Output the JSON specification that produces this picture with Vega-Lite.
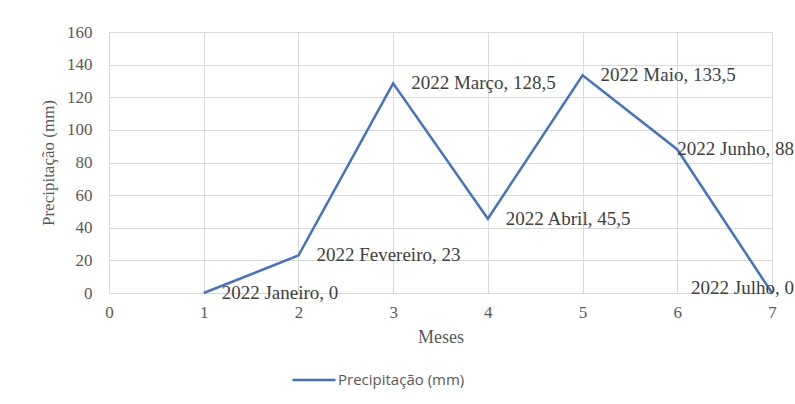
{
  "$schema": "https://vega.github.io/schema/vega-lite/v6.json",
  "width": 663,
  "height": 261,
  "autosize": "none",
  "padding": {"left": 109, "top": 32, "right": 23, "bottom": 111},
  "background": "white",
  "config": {
    "view": {"stroke": null},
    "axis": {
      "labelFont": "Liberation Serif",
      "titleFont": "Liberation Serif",
      "labelColor": "#595959",
      "titleColor": "#595959",
      "titleFontWeight": "normal",
      "gridColor": "#d9d9d9",
      "gridWidth": 1,
      "ticks": false,
      "labelFlush": false
    }
  },
  "data": {
    "values": [
      {"mes": 1, "valor": 0, "rotulo": "2022 Janeiro, 0", "grupo": "a"},
      {"mes": 2, "valor": 23, "rotulo": "2022 Fevereiro, 23", "grupo": "a"},
      {"mes": 3, "valor": 128.5, "rotulo": "2022 Março, 128,5", "grupo": "a"},
      {"mes": 4, "valor": 45.5, "rotulo": "2022 Abril, 45,5", "grupo": "a"},
      {"mes": 5, "valor": 133.5, "rotulo": "2022 Maio, 133,5", "grupo": "a"},
      {"mes": 6, "valor": 88, "rotulo": "2022 Junho, 88", "grupo": "b"},
      {"mes": 7, "valor": 0, "rotulo": "2022 Julho, 0", "grupo": "c"}
    ]
  },
  "encoding": {
    "x": {
      "field": "mes",
      "type": "quantitative",
      "scale": {"domain": [0, 7], "nice": false, "zero": false},
      "axis": {
        "title": "Meses",
        "values": [0, 1, 2, 3, 4, 5, 6, 7],
        "labelFontSize": 17,
        "titleFontSize": 18,
        "labelPadding": 11,
        "titlePadding": 8,
        "domain": true,
        "domainColor": "#d9d9d9",
        "format": "d"
      }
    },
    "y": {
      "field": "valor",
      "type": "quantitative",
      "scale": {"domain": [0, 160], "nice": false},
      "axis": {
        "title": "Precipitação (mm)",
        "values": [0, 20, 40, 60, 80, 100, 120, 140, 160],
        "labelFontSize": 17,
        "titleFontSize": 17,
        "labelPadding": 17,
        "titlePadding": 9,
        "domain": false,
        "format": "d"
      }
    }
  },
  "layer": [
    {
      "mark": {"type": "line", "strokeWidth": 2.5},
      "encoding": {
        "color": {
          "datum": "Precipitação (mm)",
          "type": "nominal",
          "scale": {"range": ["#4472C4"]},
          "legend": {
            "title": null,
            "orient": "none",
            "legendX": 182,
            "legendY": 325,
            "symbolType": "stroke",
            "symbolSize": 1849,
            "symbolStrokeWidth": 2.5,
            "labelFont": "Open Sans",
            "labelFontSize": 15,
            "labelColor": "#595959",
            "labelOffset": 1
          }
        }
      }
    },
    {
      "transform": [{"filter": "datum.grupo === 'a'"}],
      "mark": {"type": "text", "align": "left", "baseline": "middle", "dx": 18, "font": "Liberation Serif", "fontSize": 19, "color": "#404040"},
      "encoding": {"text": {"field": "rotulo"}}
    },
    {
      "transform": [{"filter": "datum.grupo === 'b'"}],
      "mark": {"type": "text", "align": "left", "baseline": "middle", "dx": 0, "font": "Liberation Serif", "fontSize": 19, "color": "#404040"},
      "encoding": {"text": {"field": "rotulo"}}
    },
    {
      "transform": [{"filter": "datum.grupo === 'c'"}],
      "mark": {"type": "text", "align": "right", "baseline": "middle", "dx": 22, "dy": -5, "font": "Liberation Serif", "fontSize": 19, "color": "#404040"},
      "encoding": {"text": {"field": "rotulo"}}
    }
  ]
}
